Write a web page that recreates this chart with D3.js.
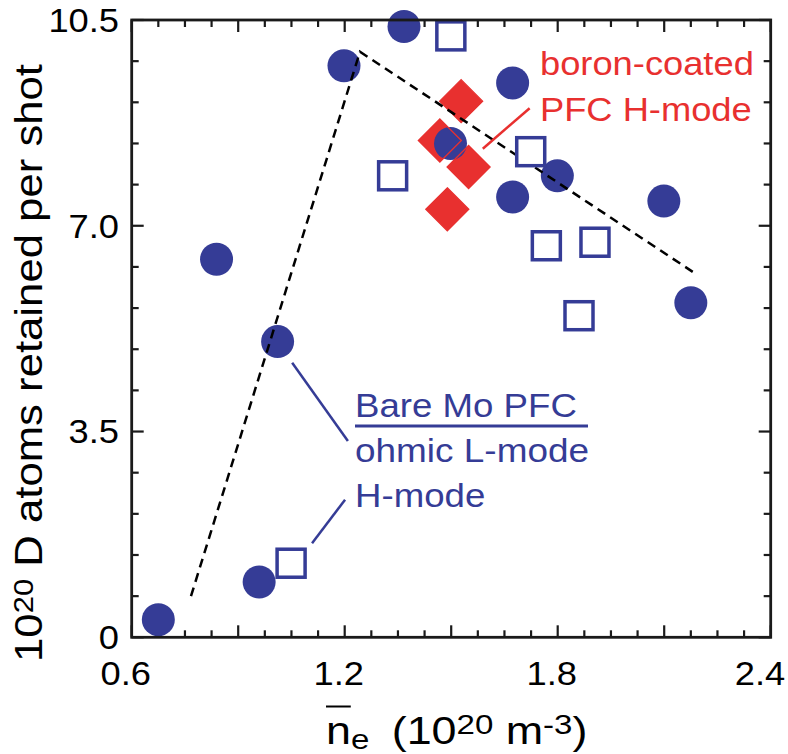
<!DOCTYPE html>
<html>
<head>
<meta charset="utf-8">
<script src="https://cdn.jsdelivr.net/npm/d3@7"></script>
<style>
  html, body { margin: 0; padding: 0; background: #fff; }
  text { font-family: "Liberation Sans", Arial, Helvetica, sans-serif; }
</style>
</head>
<body>
<svg id="chart" width="788" height="754"></svg>
<script>
// ---------- data ----------
const xTickValues = [0.6, 1.2, 1.8, 2.4];
const xTickLabels = ["0.6", "1.2", "1.8", "2.4"];
const yTickValues = [0, 3.5, 7.0, 10.5];
const yTickLabels = ["0", "3.5", "7.0", "10.5"];

// Bare Mo PFC, ohmic L-mode (filled circles)
const ohmicX = [0.675, 0.959, 0.839, 1.011, 1.198, 1.367, 1.498, 1.673, 1.673, 1.799, 2.099, 2.175];
const ohmicY = [0.30, 0.94, 6.43, 5.03, 9.72, 10.39, 8.40, 9.43, 7.49, 7.85, 7.42, 5.69];

// Bare Mo PFC, H-mode (open squares)
const hmodeX = [1.049, 1.335, 1.499, 1.724, 1.768, 1.905, 1.860];
const hmodeY = [1.26, 7.85, 10.23, 8.26, 6.66, 6.72, 5.47];

// boron-coated PFC H-mode (red diamonds)
const boronX = [1.528, 1.468, 1.549, 1.489];
const boronY = [9.12, 8.45, 8.00, 7.28];

// dashed trend line
const trendX = [0.767, 1.243, 2.187];
const trendY = [0.70, 9.96, 6.19];

// annotation leader lines (data units)
const leaderRed = [[1.589, 8.31], [1.721, 9.00]];
const leaderCircle = [[1.052, 4.67], [1.209, 3.34]];
const leaderSquare = [[1.108, 1.60], [1.201, 2.34]];

// ---------- layout ----------
const W = 788, H = 754;
const m = { left: 131.7, top: 20, right: 770.7, bottom: 637.3 };
const BLUE = "#353c96", RED = "#e8302f", INK = "#1a1a1a";
const STRETCH = 1.1;

const svg = d3.select("#chart");
const x = d3.scaleLinear().domain([0.6, 2.4]).range([m.left, m.right]);
const y = d3.scaleLinear().domain([0, 10.5]).range([m.bottom, m.top]);

// ---------- axes / ticks ----------
const xMinor = d3.range(0, 25).map(i => 0.6 + i * 0.075);
const yMinor = d3.range(0, 16).map(i => i * 0.7);
const isLongX = v => Math.abs(v / 0.3 - Math.round(v / 0.3)) < 1e-6;
const isLongY = v => Math.abs(v / 3.5 - Math.round(v / 3.5)) < 1e-6;

const axisG = svg.append("g").attr("stroke", INK).attr("stroke-width", 2.2);
xMinor.forEach(v => {
  const L = isLongX(v) ? 12 : 7;
  axisG.append("line").attr("x1", x(v)).attr("x2", x(v)).attr("y1", m.bottom).attr("y2", m.bottom - L);
  axisG.append("line").attr("x1", x(v)).attr("x2", x(v)).attr("y1", m.top).attr("y2", m.top + L);
});
yMinor.forEach(v => {
  const L = isLongY(v) ? 12 : 7;
  axisG.append("line").attr("y1", y(v)).attr("y2", y(v)).attr("x1", m.left).attr("x2", m.left + L);
  axisG.append("line").attr("y1", y(v)).attr("y2", y(v)).attr("x1", m.right).attr("x2", m.right - L);
});

// stretched text helper
function label(g, px, py, str, opts = {}) {
  const grp = g.append("g")
    .attr("transform", `translate(${px},${py}) rotate(${opts.rotate || 0}) scale(${opts.stretch || STRETCH},1)`);
  const t = grp.append("text")
    .attr("x", 0).attr("y", 0)
    .attr("font-size", opts.size || 33)
    .attr("fill", opts.fill || "#000")
    .attr("text-anchor", opts.anchor || "start");
  if (opts.dy) t.attr("dy", opts.dy);
  if (str !== null) t.text(str);
  return { grp, t };
}

const textG = svg.append("g");
xTickValues.forEach((v, i) => {
  const px = Math.min(x(v) - 6, 760);
  label(textG, px, 685, xTickLabels[i], { anchor: "middle", size: 33 });
});
yTickValues.forEach((v, i) => label(textG, 119, y(v), yTickLabels[i], { anchor: "end", size: 33, dy: "0.36em" }));

// y axis title
{
  const { t } = label(textG, 42, 363, null, { anchor: "middle", size: 38, rotate: -90, stretch: 1.15 });
  t.append("tspan").text("10");
  t.append("tspan").attr("font-size", 27).attr("dy", -9).text("20");
  t.append("tspan").attr("dy", 9).text(" D atoms retained per shot");
}
// x axis title
{
  const { grp, t } = label(textG, 326, 744, null, { size: 38, stretch: 1.18 });
  t.append("tspan").text("n");
  t.append("tspan").attr("font-size", 28).attr("dy", 5).text("e");
  t.append("tspan").attr("dy", -5).text("\u2002(10");
  t.append("tspan").attr("font-size", 28).attr("dy", -10).text("20");
  t.append("tspan").attr("dy", 10).text(" m");
  t.append("tspan").attr("font-size", 28).attr("dy", -10).text("-3");
  t.append("tspan").attr("dy", 10).text(")");
  grp.append("line").attr("x1", 0).attr("x2", 21).attr("y1", -37.5).attr("y2", -37.5)
    .attr("stroke", "#000").attr("stroke-width", 2);
}

// ---------- marks ----------
const ohmic = ohmicX.map((v, i) => ({ x: v, y: ohmicY[i] }));
const hmode = hmodeX.map((v, i) => ({ x: v, y: hmodeY[i] }));
const boron = boronX.map((v, i) => ({ x: v, y: boronY[i] }));
const trend = trendX.map((v, i) => ({ x: v, y: trendY[i] }));

const diamondPath = d => {
  const cx = x(d.x), cy = y(d.y), r = 21.5;
  return `M${cx},${cy - r}L${cx + r},${cy}L${cx},${cy + r}L${cx - r},${cy}Z`;
};

const marks = svg.append("g");
marks.selectAll("path.boron").data(boron).join("path")
  .attr("class", "boron").attr("d", diamondPath).attr("fill", RED);

marks.selectAll("circle.ohmic").data(ohmic).join("circle")
  .attr("class", "ohmic").attr("cx", d => x(d.x)).attr("cy", d => y(d.y)).attr("r", 16.5)
  .attr("fill", BLUE);

marks.selectAll("path.boronOutline").data(boron).join("path")
  .attr("class", "boronOutline").attr("d", diamondPath)
  .attr("fill", "none").attr("stroke", RED).attr("stroke-width", 1.3);

const line = d3.line().x(d => x(d.x)).y(d => y(d.y));
marks.append("path").datum(trend).attr("d", line)
  .attr("fill", "none").attr("stroke", "#000").attr("stroke-width", 2.5)
  .attr("stroke-dasharray", "9,6");

marks.selectAll("rect.hmode").data(hmode).join("rect")
  .attr("class", "hmode")
  .attr("x", d => x(d.x) - 14).attr("y", d => y(d.y) - 14)
  .attr("width", 28).attr("height", 28)
  .attr("fill", "#fff").attr("stroke", BLUE).attr("stroke-width", 3.5);

const leader = (pts, color) => marks.append("line")
  .attr("x1", x(pts[0][0])).attr("y1", y(pts[0][1]))
  .attr("x2", x(pts[1][0])).attr("y2", y(pts[1][1]))
  .attr("stroke", color).attr("stroke-width", 2.5);
leader(leaderRed, RED);
leader(leaderCircle, BLUE);
leader(leaderSquare, BLUE);

// ---------- legend texts ----------
label(textG, 540, 75, "boron-coated", { fill: RED, size: 33, stretch: 1.1 });
label(textG, 540, 121, "PFC H-mode", { fill: RED, size: 33, stretch: 1.1 });
label(textG, 355, 417, "Bare Mo PFC", { fill: BLUE, size: 33, stretch: 1.11 });
textG.append("line").attr("x1", 355).attr("x2", 588).attr("y1", 426).attr("y2", 426)
  .attr("stroke", BLUE).attr("stroke-width", 3);
label(textG, 355, 462, "ohmic L-mode", { fill: BLUE, size: 33, stretch: 1.12 });
label(textG, 355, 507, "H-mode", { fill: BLUE, size: 33, stretch: 1.11 });

// frame on top
svg.append("rect").attr("x", m.left).attr("y", m.top)
  .attr("width", m.right - m.left).attr("height", m.bottom - m.top)
  .attr("fill", "none").attr("stroke", INK).attr("stroke-width", 2.8);
</script>
</body>
</html>
